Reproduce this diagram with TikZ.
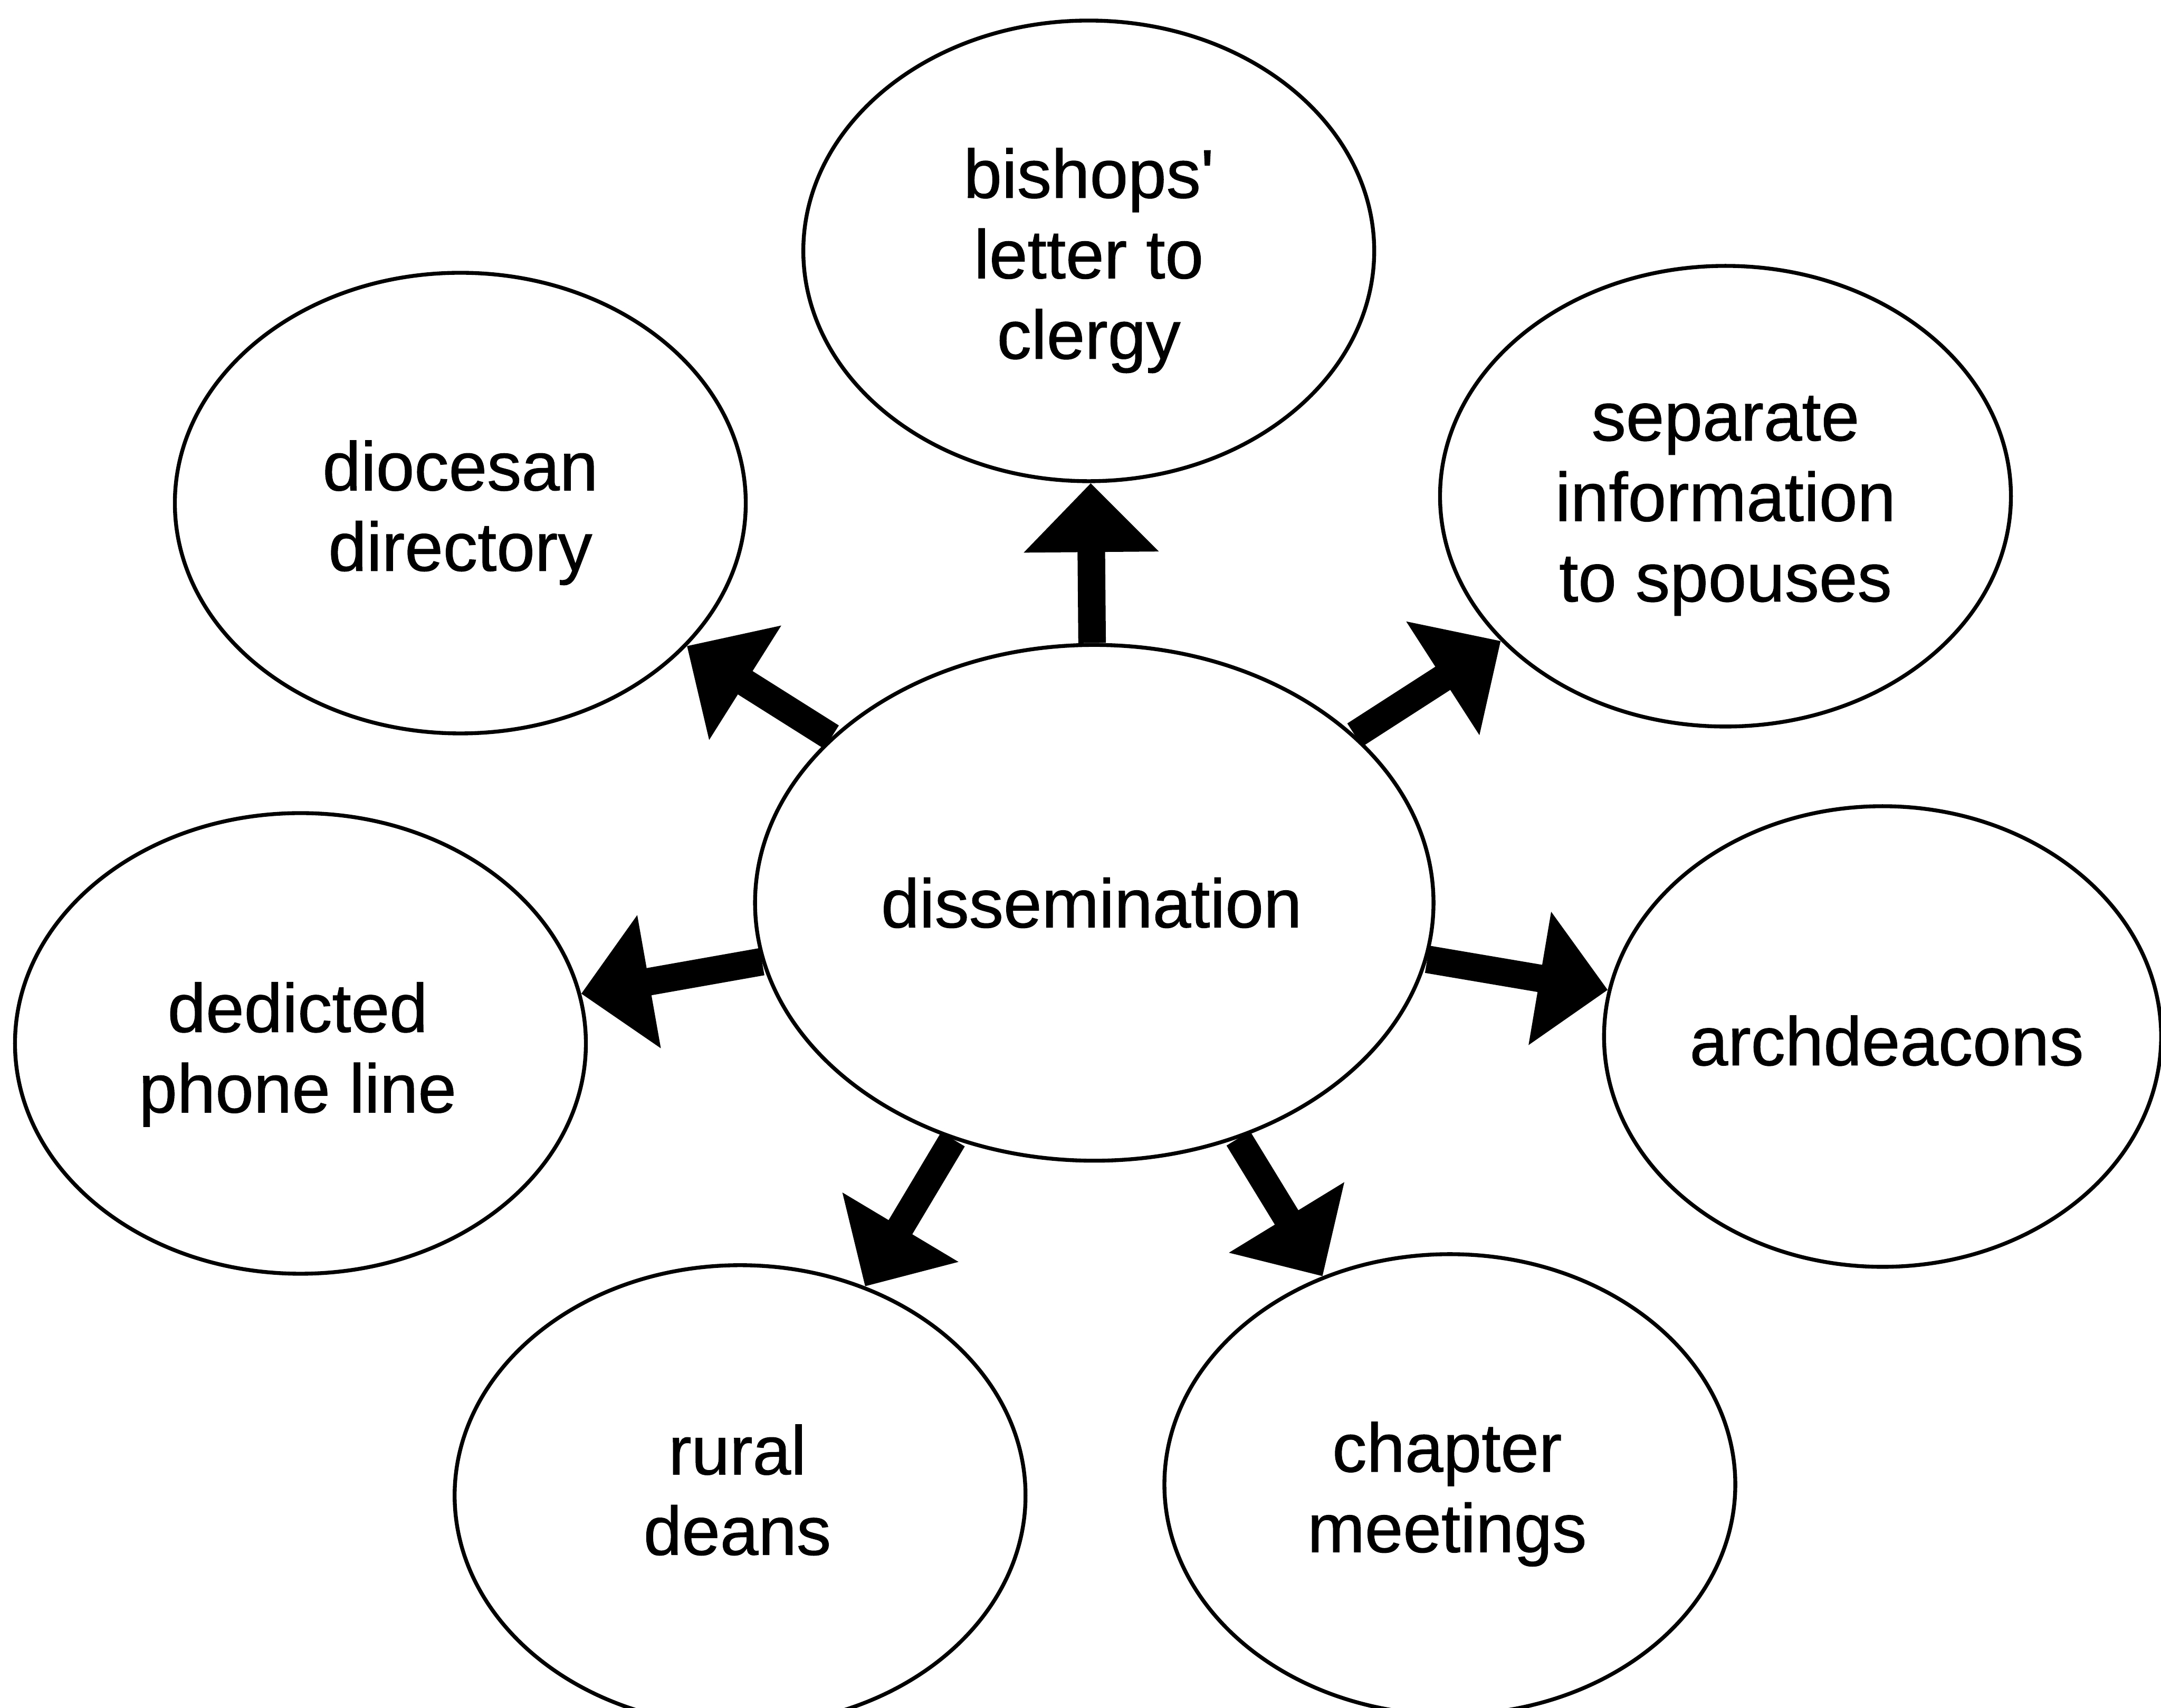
\documentclass[tikz,border=0pt]{standalone}
\usepackage{fontspec}
\setmainfont{Liberation Sans}[Ligatures=TeXOff,FakeBold=0.8]
\usetikzlibrary{shapes.geometric,arrows.meta}
\begin{document}
\begin{tikzpicture}[x=0.01cm,y=-0.01cm,
  bubble/.style={draw,ellipse,line width=0.8pt,inner sep=0pt,
    minimum width=4.14cm,minimum height=3.34cm},
  lbl/.style={align=center,inner sep=0pt,font=\fontsize{14.2}{16.6}\selectfont},
  bigarrow/.style={line width=0.2cm,-{Triangle[length=0.5cm,width=0.95cm]}}]
\useasboundingbox (0,0) rectangle (1568,1239);
\clip (0,0) rectangle (1568,1239);
\node[bubble,minimum width=4.92cm,minimum height=3.74cm] (d) at (794,655) {};
\node[bubble] (b) at (790,182) {};
\node[bubble] (dd) at (334,365) {};
\node[bubble] (s) at (1252,360) {};
\node[bubble] (p) at (218,757) {};
\node[bubble,minimum width=4.04cm] (a) at (1366,752) {};
\node[bubble] (r) at (537,1085) {};
\node[bubble] (c) at (1052,1077) {};
\node[lbl] (dt) at (792,655) {dissemination};
\node[lbl] (bt) at (790,189) {bishops'\\letter to\\clergy};
\node[lbl] (ddt) at (334,372) {diocesan\\directory};
\node[lbl] (st) at (1252,367) {separate\\information\\to spouses};
\node[lbl] (pt) at (216,765) {dedicted\\phone line};
\node[lbl] (at) at (1369,755) {archdeacons};
\node[lbl] (rt) at (535,1081) {rural\\deans};
\node[lbl] (ct) at (1050,1084) {chapter\\meetings};
\draw[bigarrow] (d) -- (b);
\draw[bigarrow] (d) -- (dd);
\draw[bigarrow] (d) -- (s);
\draw[bigarrow] (d) -- (p);
\draw[bigarrow] (d) -- (a);
\draw[bigarrow] (d) -- (r);
\draw[bigarrow] (d) -- (c);
\end{tikzpicture}
\end{document}
